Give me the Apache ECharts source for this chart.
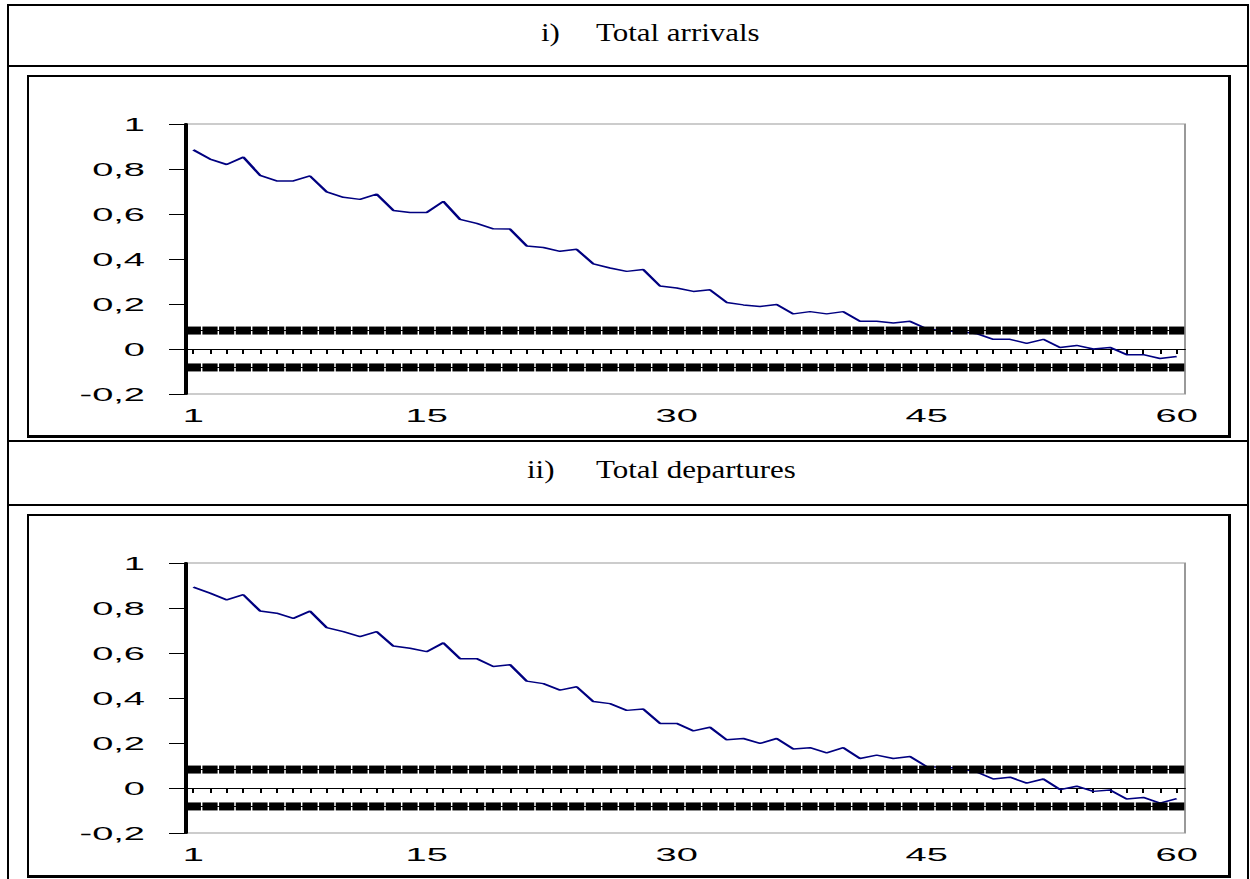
<!DOCTYPE html>
<html>
<head>
<meta charset="utf-8">
<script src="https://cdn.jsdelivr.net/npm/echarts@6/dist/echarts.min.js"></script>
<style>
  html, body { margin: 0; padding: 0; background: #fff; }
  #page { position: relative; width: 1250px; height: 879px; overflow: hidden; }
  .box { position: absolute; box-sizing: border-box; border: 2px solid #000; }
  .hline { position: absolute; left: 7px; width: 1242px; height: 2px; background: #000; }
  .frame { position: absolute; left: 27px; width: 1204px; box-sizing: border-box;
           border: 2px solid #000; border-right-width: 3px; border-bottom-width: 3px; }
  .title { position: absolute; font-family: 'Liberation Serif', 'Times New Roman', serif;
           font-size: 26px; line-height: 26px; color: #000; white-space: nowrap;
           transform: scaleX(1.19); transform-origin: 0 0; }
  .chart { position: absolute; left: 0; width: 625px; height: 362px;
           transform: scaleX(2); transform-origin: 0 0; }
</style>
</head>
<body>
<div id="page">
  <div class="box" style="left:7px; top:4px; width:1242px; height:900px;"></div>
  <div class="hline" style="top:65px;"></div>
  <div class="title" style="left:541px; top:20px;">i)</div>
  <div class="title" style="left:596px; top:20px;">Total arrivals</div>
  <div class="frame" style="top:75px; height:363px;"></div>
  <div class="hline" style="top:440px;"></div>
  <div class="title" style="left:527px; top:457px;">ii)</div>
  <div class="title" style="left:596px; top:457px;">Total departures</div>
  <div class="hline" style="top:504px;"></div>
  <div class="frame" style="top:514px; height:364px;"></div>
  <div id="chart1" class="chart" style="top:76px;"></div>
  <div id="chart2" class="chart" style="top:515px;"></div>
</div>
<script>
// lags 1..60
const lags = Array.from({ length: 60 }, (_, i) => String(i + 1))
const xTickLabels = ['1', '15', '30', '45', '60']

// confidence bound (+/-)
const confLimit = 0.082

const arrivalsAcf = [
  0.885, 0.844, 0.820, 0.853, 0.772, 0.747, 0.747, 0.769, 0.698, 0.674,
  0.665, 0.688, 0.616, 0.607, 0.607, 0.656, 0.576, 0.558, 0.534, 0.533,
  0.458, 0.451, 0.434, 0.443, 0.378, 0.360, 0.345, 0.353, 0.280, 0.271,
  0.256, 0.263, 0.207, 0.196, 0.189, 0.198, 0.156, 0.166, 0.156, 0.166,
  0.123, 0.123, 0.116, 0.123, 0.090, 0.080, 0.078, 0.068, 0.043, 0.043,
  0.025, 0.043, 0.007, 0.016, 0.000, 0.007, -0.025, -0.025, -0.042, -0.033
]

const departuresAcf = [
  0.893, 0.866, 0.836, 0.859, 0.787, 0.777, 0.754, 0.786, 0.713, 0.695,
  0.673, 0.695, 0.631, 0.621, 0.606, 0.645, 0.575, 0.575, 0.540, 0.548,
  0.475, 0.464, 0.435, 0.450, 0.384, 0.375, 0.345, 0.351, 0.287, 0.287,
  0.254, 0.270, 0.214, 0.220, 0.198, 0.220, 0.173, 0.179, 0.156, 0.179,
  0.131, 0.146, 0.131, 0.140, 0.095, 0.092, 0.088, 0.071, 0.040, 0.048,
  0.022, 0.040, -0.007, 0.008, -0.015, -0.009, -0.049, -0.042, -0.067, -0.047
]

const labelFont = "'Liberation Sans', Arial, sans-serif"

const bandSeries = (value) => ({
  type: 'line',
  data: lags.map(() => value),
  symbol: 'rect',
  symbolSize: [7.6, 8],
  showAllSymbol: true,
  itemStyle: { color: '#000' },
  lineStyle: { color: '#000', width: 1 },
  silent: true,
  z: 4
})

const makeOption = (values) => ({
  animation: false,
  grid: {
    left: 92.5, top: 48, width: 500, height: 270,
    show: true, borderColor: '#999', borderWidth: 1
  },
  xAxis: [
    {
      type: 'category',
      data: lags,
      boundaryGap: true,
      axisLine: { onZero: true, lineStyle: { color: '#000', width: 1 } },
      axisTick: { show: true, interval: 0, alignWithLabel: true, length: 5, lineStyle: { color: '#000', width: 1 } },
      axisLabel: { show: false },
      splitLine: { show: false }
    },
    {
      type: 'category',
      data: lags,
      boundaryGap: true,
      position: 'bottom',
      axisLine: { show: false, onZero: false },
      axisTick: { show: false },
      axisLabel: {
        interval: (idx, val) => xTickLabels.includes(val),
        margin: 12,
        fontSize: 19,
        fontFamily: labelFont,
        color: '#000'
      },
      splitLine: { show: false }
    }
  ],
  yAxis: {
    type: 'value',
    min: -0.2,
    max: 1,
    interval: 0.2,
    axisLine: { show: true, lineStyle: { color: '#000', width: 2 } },
    axisTick: { show: true, length: 8, lineStyle: { color: '#000', width: 1 } },
    axisLabel: {
      margin: 20,
      fontSize: 19,
      fontFamily: labelFont,
      color: '#000',
      formatter: v => String(Math.round(v * 10) / 10).replace('.', ',')
    },
    splitLine: { show: false }
  },
  series: [
    {
      type: 'line',
      data: values,
      symbol: 'none',
      lineStyle: { color: '#000080', width: 1.5 },
      z: 3
    },
    bandSeries(confLimit),
    bandSeries(-confLimit)
  ]
})

const chart1 = echarts.init(document.getElementById('chart1'), null, { renderer: 'svg' })
chart1.setOption(makeOption(arrivalsAcf))
const chart2 = echarts.init(document.getElementById('chart2'), null, { renderer: 'svg' })
chart2.setOption(makeOption(departuresAcf))
</script>
</body>
</html>
